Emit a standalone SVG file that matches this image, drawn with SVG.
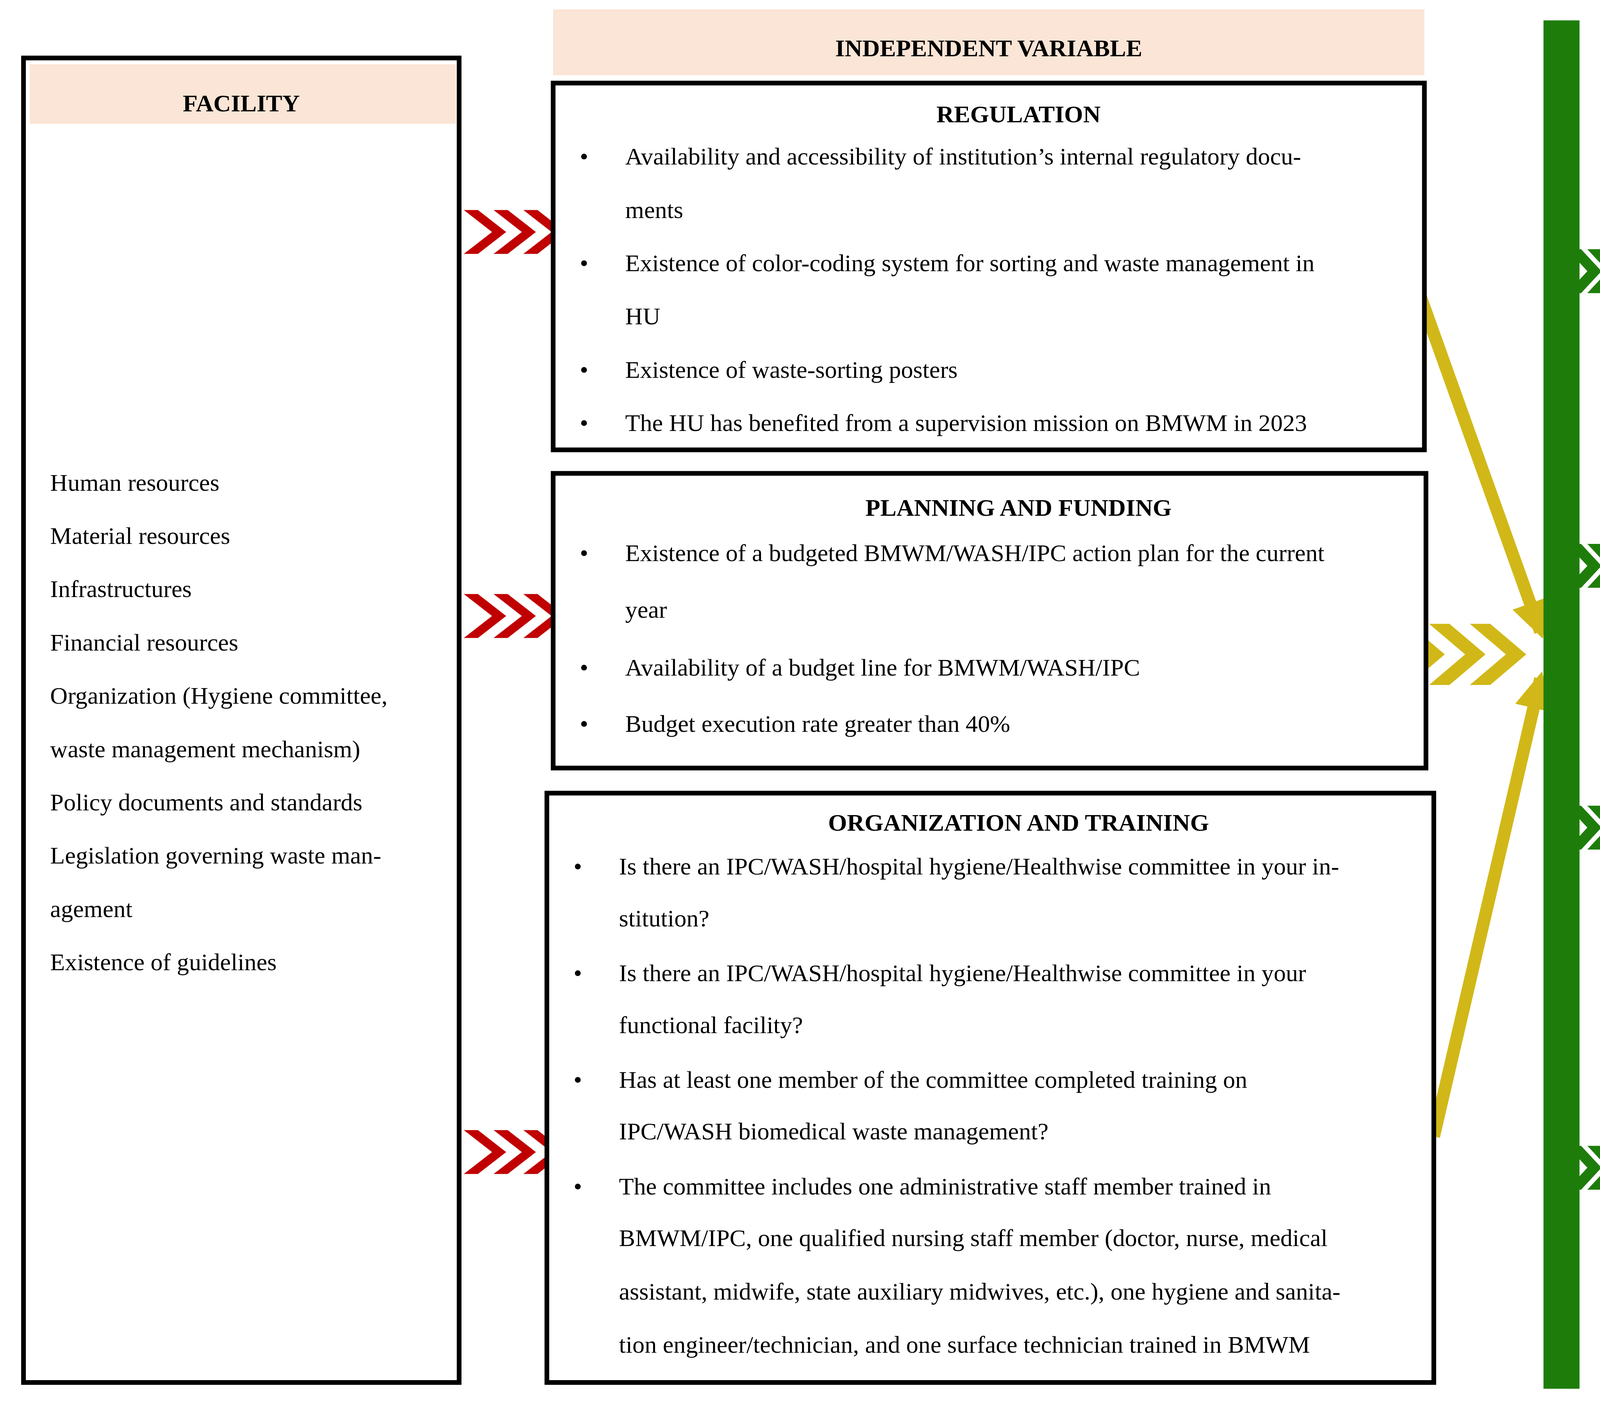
<svg xmlns="http://www.w3.org/2000/svg" width="6290" height="3606" viewBox="0 0 6290 3606">
<style>
.t{font-family:"Liberation Serif","Times New Roman",serif;font-size:15.5px;fill:#000}
.b{font-weight:bold;font-size:15.5px;text-anchor:middle}
.box{fill:#fff;stroke:#000;stroke-width:3}
.hd{fill:#fbe5d6}
</style>
<defs>
<polygon id="rc" points="0,0 9,0 27,14 9,28 0,28 18,14" fill="#c00000"/>
<polygon id="gc" points="0,0 9,0 22,14 9,28 0,28 13,14" fill="#1e7d0a"/>
<polygon id="yc" points="0,0 13,0 36,19.5 13,39 0,39 23,19.5" fill="#d1b818"/>
<marker id="ya" viewBox="0 0 10 10" refX="8" refY="5" markerWidth="3" markerHeight="3" orient="auto" markerUnits="strokeWidth"><path d="M0,0 L10,5 L0,10 z" fill="#d1b818"/></marker>
</defs>
<rect width="6290" height="3606" fill="#fff"/>
<g transform="scale(4.0115)">
<g id="connectors">
<use href="#rc" x="296" y="134"/><use href="#rc" x="315" y="134"/><use href="#rc" x="334" y="134"/>
<use href="#rc" x="296" y="379"/><use href="#rc" x="315" y="379"/><use href="#rc" x="334" y="379"/>
<use href="#rc" x="296" y="721"/><use href="#rc" x="315" y="721"/><use href="#rc" x="334" y="721"/>
<use href="#yc" x="886" y="398"/><use href="#yc" x="912" y="398"/><use href="#yc" x="938" y="398"/>
<line x1="905" y1="185" x2="983" y2="403" stroke="#d1b818" stroke-width="8" marker-end="url(#ya)"/>
<line x1="915" y1="725" x2="983" y2="433" stroke="#d1b818" stroke-width="8" marker-end="url(#ya)"/>
<use href="#gc" x="1000" y="159"/><use href="#gc" x="1013" y="159"/><use href="#gc" x="1026" y="159"/>
<use href="#gc" x="1000" y="347"/><use href="#gc" x="1013" y="347"/><use href="#gc" x="1026" y="347"/>
<use href="#gc" x="1000" y="514"/><use href="#gc" x="1013" y="514"/><use href="#gc" x="1026" y="514"/>
<use href="#gc" x="1000" y="731"/><use href="#gc" x="1013" y="731"/><use href="#gc" x="1026" y="731"/>
<rect x="985" y="13" width="23" height="873" fill="#1e7d0a"/>
</g>
<g id="facility">
<rect class="box" x="15" y="37" width="278" height="845"/>
<rect class="hd" x="19" y="41" width="272" height="38"/>
<text class="t b" x="154" y="71">FACILITY</text>
<text class="t" x="32" y="313">Human resources</text>
<text class="t" x="32" y="347">Material resources</text>
<text class="t" x="32" y="381">Infrastructures</text>
<text class="t" x="32" y="415">Financial resources</text>
<text class="t" x="32" y="449">Organization (Hygiene committee,</text>
<text class="t" x="32" y="483">waste management mechanism)</text>
<text class="t" x="32" y="517">Policy documents and standards</text>
<text class="t" x="32" y="551">Legislation governing waste man-</text>
<text class="t" x="32" y="585">agement</text>
<text class="t" x="32" y="619">Existence of guidelines</text>
</g>
<g id="indep-header">
<rect class="hd" x="353" y="6" width="556" height="42"/>
<text class="t b" x="631" y="36">INDEPENDENT VARIABLE</text>
</g>
<g id="regulation">
<rect class="box" x="353" y="53" width="556" height="234"/>
<text class="t b" x="650" y="78">REGULATION</text>
<text class="t" x="370" y="105">•</text><text class="t" x="399" y="105">Availability and accessibility of institution’s internal regulatory docu-</text>
<text class="t" x="399" y="139">ments</text>
<text class="t" x="370" y="173">•</text><text class="t" x="399" y="173">Existence of color-coding system for sorting and waste management in</text>
<text class="t" x="399" y="207">HU</text>
<text class="t" x="370" y="241">•</text><text class="t" x="399" y="241">Existence of waste-sorting posters</text>
<text class="t" x="370" y="275">•</text><text class="t" x="399" y="275">The HU has benefited from a supervision mission on BMWM in 2023</text>
</g>
<g id="planning">
<rect class="box" x="353" y="302" width="557" height="188"/>
<text class="t b" x="650" y="329">PLANNING AND FUNDING</text>
<text class="t" x="370" y="358">•</text><text class="t" x="399" y="358">Existence of a budgeted BMWM/WASH/IPC action plan for the current</text>
<text class="t" x="399" y="394">year</text>
<text class="t" x="370" y="431">•</text><text class="t" x="399" y="431">Availability of a budget line for BMWM/WASH/IPC</text>
<text class="t" x="370" y="467">•</text><text class="t" x="399" y="467">Budget execution rate greater than 40%</text>
</g>
<g id="organization">
<rect class="box" x="349" y="506" width="566" height="376"/>
<text class="t b" x="650" y="530">ORGANIZATION AND TRAINING</text>
<text class="t" x="366" y="558">•</text><text class="t" x="395" y="558">Is there an IPC/WASH/hospital hygiene/Healthwise committee in your in-</text>
<text class="t" x="395" y="591">stitution?</text>
<text class="t" x="366" y="626">•</text><text class="t" x="395" y="626">Is there an IPC/WASH/hospital hygiene/Healthwise committee in your</text>
<text class="t" x="395" y="659">functional facility?</text>
<text class="t" x="366" y="694">•</text><text class="t" x="395" y="694">Has at least one member of the committee completed training on</text>
<text class="t" x="395" y="727">IPC/WASH biomedical waste management?</text>
<text class="t" x="366" y="762">•</text><text class="t" x="395" y="762">The committee includes one administrative staff member trained in</text>
<text class="t" x="395" y="795">BMWM/IPC, one qualified nursing staff member (doctor, nurse, medical</text>
<text class="t" x="395" y="829">assistant, midwife, state auxiliary midwives, etc.), one hygiene and sanita-</text>
<text class="t" x="395" y="863">tion engineer/technician, and one surface technician trained in BMWM</text>
</g>
<g id="dep-header">
<rect class="hd" x="1048" y="9" width="501" height="47"/>
<text class="t b" x="1299" y="39">DEPENDENT VARIABLE</text>
</g>
<g id="sort">
<rect class="box" x="1048" y="59" width="500" height="234"/>
<text class="t b" x="1316" y="83">SORT</text>
<text class="t" x="1065" y="110" textLength="467" lengthAdjust="spacing">Biomedical waste is sorted according to its nature in the consulta-</text>
<text class="t" x="1065" y="144">tion/medicine room</text>
<text class="t" x="1065" y="178" textLength="467" lengthAdjust="spacing">Biomedical waste is sorted according to its nature in the treatment</text>
<text class="t" x="1065" y="212">room/small surgery</text>
<text class="t" x="1065" y="246">Biomedical waste is sorted according to its nature in the delivery room</text>
<text class="t" x="1065" y="280">Biomedical waste is sorted according to its nature in the laboratory</text>
</g>
<g id="quantification">
<rect class="box" x="1048" y="308" width="500" height="133"/>
<text class="t b" x="1298" y="340">QUANTIFICATION</text>
<text class="t" x="1094" y="375">Quantification of prickly, sharp, and cutting medical objects</text>
<text class="t" x="1094" y="412">Quantification of infectious medical waste</text>
</g>
<g id="collection">
<rect class="box" x="1047" y="456" width="503" height="157"/>
<text class="t b" x="1313" y="489">COLLECTION AND TRANSPORT</text>
<text class="t" x="1093" y="526">Is there a means of transportation for the transit of waste from</text>
<text class="t" x="1093" y="563">collection point to storage site?</text>
<text class="t" x="1093" y="599">Is the transport carried out by waste category?</text>
</g>
<g id="infrastructure">
<rect class="box" x="1048" y="634" width="504" height="253"/>
<text class="t b" x="1315" y="668">INFRASTRUCTURE/ ELIMINATION</text>
<text class="t" x="1095" y="704" textLength="435" lengthAdjust="spacing">Existence of a functional incinerator or 13.4. are infectious medi-</text>
<text class="t" x="1095" y="738">cal waste processed in situ or off-site=off-site</text>
<text class="t" x="1095" y="772">Existence of a functional ash pit</text>
<text class="t" x="1095" y="806">Is household waste treated in situ or off-site=off-site? If in situ,</text>
<text class="t" x="1095" y="840" textLength="435" lengthAdjust="spacing">method of treatment of household waste = burning in the garbage</text>
<text class="t" x="1095" y="873">pit category</text>
</g>
</g>
</svg>
